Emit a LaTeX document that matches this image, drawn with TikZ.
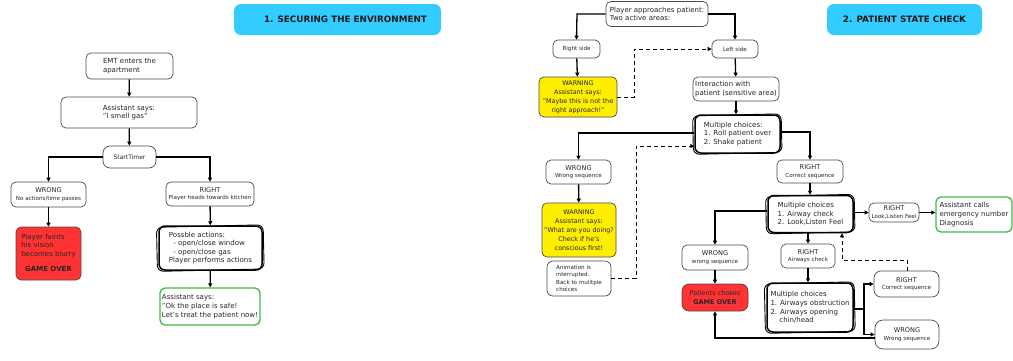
\documentclass[tikz,border=0pt]{standalone}
\usepackage{fontspec}
\setmainfont{DejaVu Sans}
\usetikzlibrary{arrows.meta}
\definecolor{cyanT}{HTML}{33CCFF}
\definecolor{redB}{HTML}{FF3333}
\definecolor{yelB}{HTML}{FFEE00}
\definecolor{grnB}{HTML}{3DBB48}
\newcommand{\fmain}{\fontsize{7}{8.6}\selectfont}
\newcommand{\fsmall}{\fontsize{5.6}{7}\selectfont}
\newcommand{\fmid}{\fontsize{6.6}{7.6}\selectfont}
\newcommand{\fwarn}{\fontsize{6.4}{9}\selectfont}
\newcommand{\apos}{\char39\relax}
\newcommand{\skb}[1]{\draw[line width=0.9, rounded corners=6, rotate around={1.3:(#1.center)}] ([shift={(-0.8,0.6)}]#1.south west) rectangle ([shift={(0.4,-0.4)}]#1.north east);}
\begin{document}
\begin{tikzpicture}[x=1pt,y=-1pt,
  box/.style={draw=black!70, line width=0.7, rounded corners=5, fill=white, inner sep=1, text=black!85, font=\fmain},
  sk/.style={box, draw=black, line width=1.5, rounded corners=6},
  rw/.style={box, align=center, font=\fmid},
  title/.style={fill=cyanT, rounded corners=7, inner sep=0, font=\fontsize{8.8}{10}\selectfont\bfseries, text=black!90},
  arr/.style={line width=1.3, black, -{Triangle[length=4pt,width=4pt]}},
  dsh/.style={arr, line width=1, dash pattern=on 4pt off 3pt}
]
\useasboundingbox (0,0) rectangle (1013,360);

% ---------- Section 1 ----------
\node[title, minimum width=207, minimum height=31] (t1) at (337.5,19.5) {\hspace{16pt}1. SECURING THE ENVIRONMENT};
\node[box, align=left, minimum width=87, minimum height=26] (emt) at (129.5,66) {EMT enters the\\apartment};
\node[box, align=left, minimum width=136, minimum height=31] (smell) at (129,112.5) {Assistant says:\\"I smell gas"};
\node[box, font=\fontsize{6}{7}\selectfont, minimum width=53, minimum height=22, rounded corners=7] (timer) at (129.5,157) {StartTimer};
\node[rw, minimum width=75, minimum height=25] (wrong1) at (48.5,194.5) {WRONG\\{\fsmall No actions/time passes}};
\node[box, fill=redB, minimum width=65, minimum height=53] (faint) at (48.5,253.5)
  {\begin{tabular}{@{}l@{}}Player faints\\his vision\\becomes blurry\\[6pt]\multicolumn{1}{@{}c@{}}{\textbf{GAME OVER}}\end{tabular}};
\node[rw, minimum width=88, minimum height=24] (right1) at (210,194) {RIGHT\\{\fsmall Player heads towards kitchen}};
\node[sk, align=left, minimum width=103, minimum height=44] (poss) at (210.5,248) {Possble actions:\\\ \ - open/close window\\\ \ - open/close gas\\Player performs actions};
\node[box, draw=grnB, line width=1.3, align=left, minimum width=100, minimum height=37, inner sep=0.5] (safe) at (210,306.5) {Assistant says:\\"Ok the place is safe!\\Let\apos s treat the patient now!};
\skb{poss}

\draw[arr] (emt) -- (smell);
\draw[arr] (smell) -- (timer);
\draw[arr] (timer.west) -| (wrong1.north);
\draw[arr] (timer.east) -| (right1.north);
\draw[arr] (wrong1) -- (faint);
\draw[arr] (right1) -- (poss);
\draw[arr] (poss) -- (safe);

% ---------- Section 2 ----------
\node[title, minimum width=155, minimum height=31] (t2) at (904.5,19.5) {2. PATIENT STATE CHECK};
\node[box, align=left, minimum width=102, minimum height=25] (pap) at (657,14) {Player approaches patient:\\Two active areas:};
\node[box, font=\fsmall, minimum width=47, minimum height=18] (rside) at (576.5,49) {Right side};
\node[box, font=\fsmall, minimum width=46, minimum height=18] (lside) at (735,49) {Left side};
\node[box, fill=yelB, align=center, font=\fwarn, minimum width=78, minimum height=40] (warn1) at (578,97) {WARNING\\Assistant says:\\"Maybe this is not the\\right approach!"};
\node[box, align=left, minimum width=86, minimum height=24] (inter) at (736,89) {Interaction with\\patient (sensitive area)};
\node[sk, align=left, minimum width=85, minimum height=38] (mc1) at (737.5,134) {Multiple choices:\\1. Roll patient over\\2. Shake patient};
\node[rw, minimum width=65, minimum height=24] (wrong2) at (578.5,172) {WRONG\\{\fsmall Wrong sequence}};
\node[box, fill=yelB, align=center, font=\fwarn, minimum width=74, minimum height=54] (warn2) at (579,230) {WARNING\\Assistant says:\\"What are you doing?\\Check if he\apos s\\conscious first!};
\node[box, align=left, font=\fontsize{5.6}{7.4}\selectfont, minimum width=64, minimum height=35, rounded corners=6] (anim) at (579,278.5) {Animation is\\interrupted.\\Back to mulitple\\choices};
\node[rw, minimum width=66, minimum height=23] (rc1) at (810,171.5) {RIGHT\\{\fsmall Correct sequence}};
\node[sk, align=left, minimum width=85, minimum height=37] (mc2) at (810.5,214) {Multiple choices\\1. Airway check\\2. Look,Listen Feel};
\node[rw, minimum width=50, minimum height=19, inner sep=0] (rllf) at (894,212.5) {RIGHT\\{\fsmall Look,Listen Feel}};
\node[box, draw=grnB, line width=1.3, align=left, minimum width=76, minimum height=35] (green2) at (974,214.5) {Assistant calls\\emergency number\\Diagnosis};
\node[rw, minimum width=66, minimum height=25] (wrong3) at (715,257.5) {WRONG\\{\fsmall wrong sequence}};
\node[box, fill=redB, align=center, font=\fontsize{6.5}{8.5}\selectfont, minimum width=66, minimum height=27, rounded corners=7] (choke) at (715,297.5) {Patients chokes\\\textbf{GAME OVER}};
\node[rw, minimum width=54, minimum height=24] (raw) at (808,256) {RIGHT\\{\fsmall Airways check}};
\node[sk, align=left, minimum width=86, minimum height=49, inner sep=0] (mc3) at (810,307.5) {Multiple choices\\1. Airways obstruction\\2. Airways opening\\\ \ \ \ chin/head};
\node[rw, minimum width=65, minimum height=26, rounded corners=7] (rc2) at (906.5,284) {RIGHT\\{\fsmall Correct sequence}};
\node[rw, minimum width=64, minimum height=29, rounded corners=8] (wrong4) at (907,334.5) {WRONG\\{\fsmall Wrong sequence}};
\skb{mc1}
\skb{mc2}
\skb{mc3}

\coordinate (pl) at (577,14);
\coordinate (pr) at (735,14);
\draw[arr] (pap.west) -- (pl) -- (rside.north);
\draw[arr] (pap.east) -- (pr) -- (lside.north);
\draw[arr] (rside) -- (warn1);
\draw[arr] (lside) -- (inter);
\draw[arr] (inter.south) -- (mc1.north -| inter.south);
\coordinate (d1a) at (634,97);
\coordinate (d1b) at (634,49);
\draw[dsh] (warn1.east |- d1a) -- (d1a) -- (d1b) -- (lside.west);
\coordinate (m1l) at (578.5,133);
\draw[arr] (mc1.west |- m1l) -- (m1l) -- (wrong2.north);
\coordinate (m1r) at (810,132);
\draw[arr] (mc1.east |- m1r) -- (m1r) -- (rc1.north);
\draw[arr] (wrong2) -- (warn2);
\coordinate (d2a) at (636,278);
\coordinate (d2b) at (636,146);
\draw[dsh] (anim.east |- d2a) -- (d2a) -- (d2b) -- (mc1.west |- d2b);
\draw[arr] (rc1.south) -- (mc2.north -| rc1.south);
\draw[arr] (mc2.east |- rllf.west) -- (rllf.west);
\draw[arr] (rllf.east) -- (green2.west |- rllf.east);
\coordinate (m2l) at (715,211);
\draw[arr] (mc2.west |- m2l) -- (m2l) -- (wrong3.north);
\draw[arr] (wrong3) -- (choke);
\draw[arr] (mc2.south -| raw.north) -- (raw.north);
\draw[arr] (raw.south) -- (mc3.north -| raw.south);
\coordinate (m3r) at (864,309);
\draw[line width=1.3] (mc3.east |- m3r) -- (m3r);
\draw[arr] (m3r) |- (rc2.west);
\draw[arr] (m3r) |- (wrong4.west);
\coordinate (w4) at (715,338);
\draw[arr] (wrong4.west |- w4) -- (w4) -- (choke.south);
\coordinate (d3a) at (907,260);
\coordinate (d3b) at (842,260);
\draw[dsh] (rc2.north -| d3a) -- (d3a) -- (d3b) -- (mc2.south -| d3b);
\end{tikzpicture}
\end{document}
